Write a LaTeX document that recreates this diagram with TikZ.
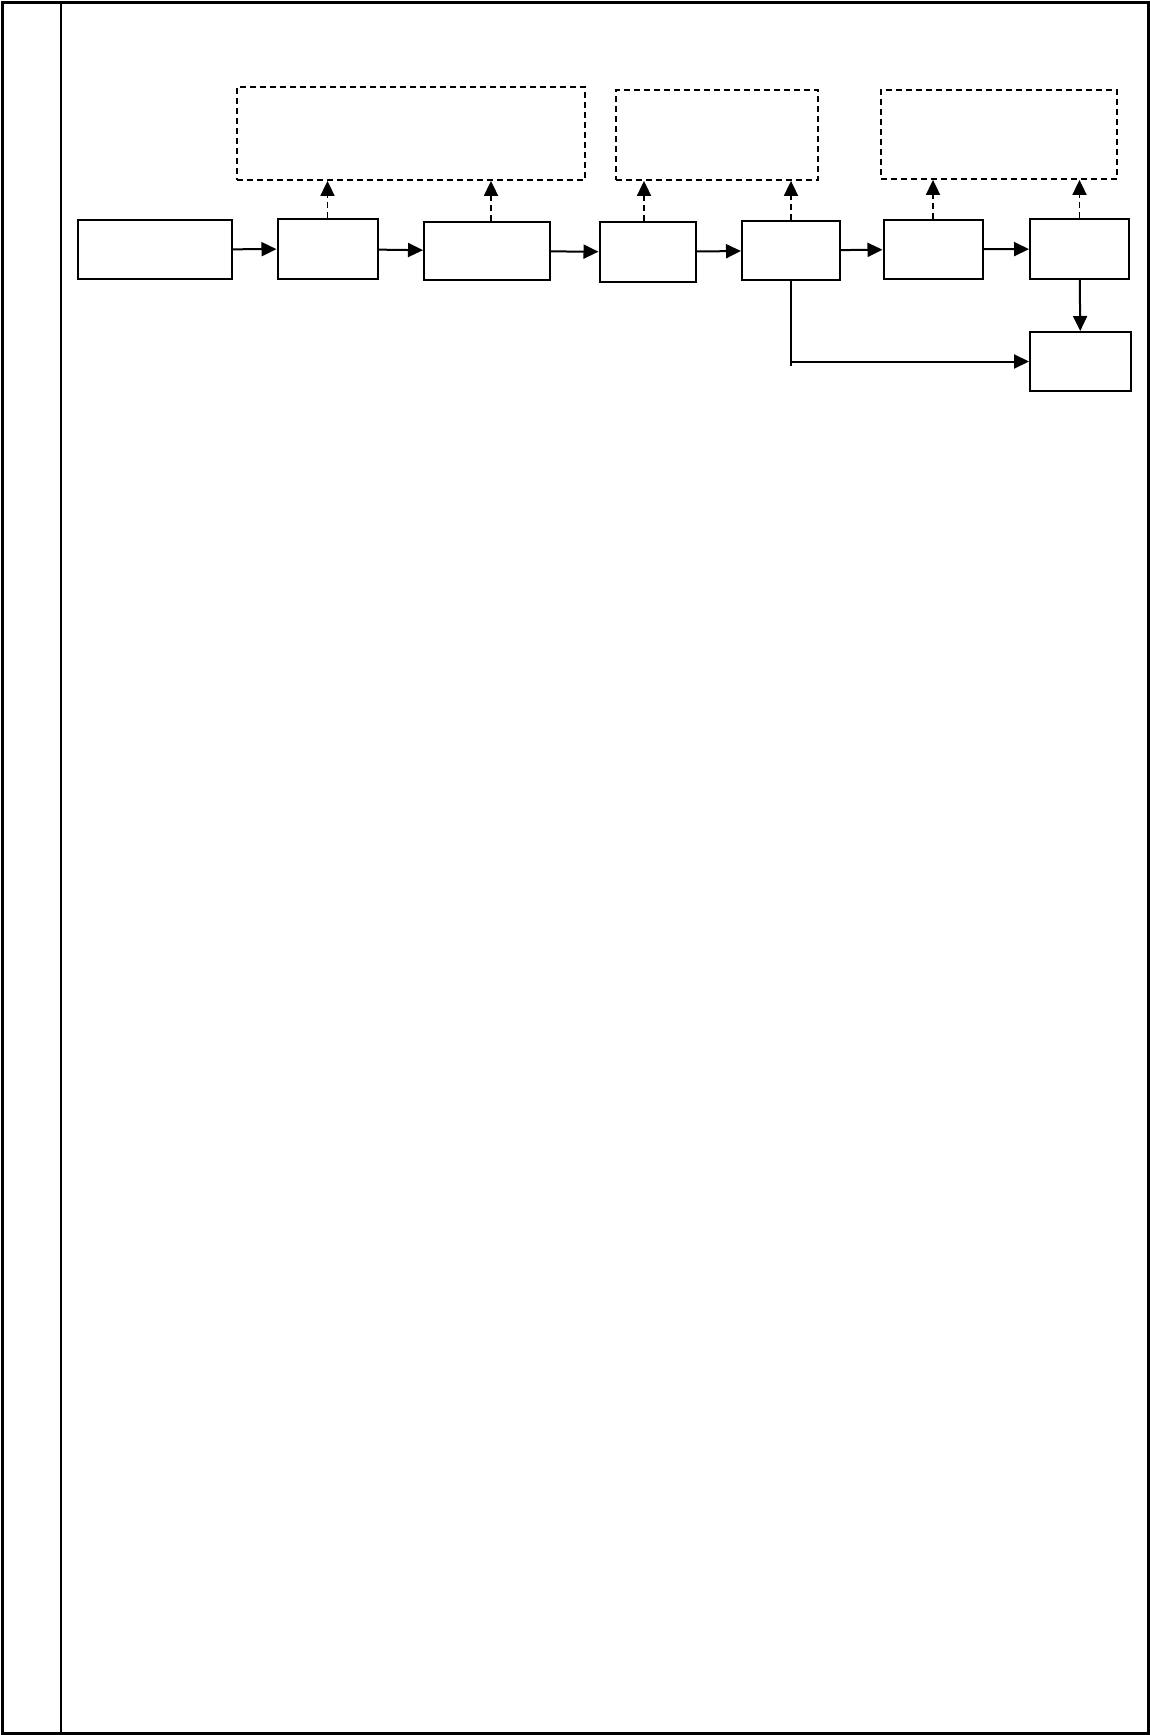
\documentclass[tikz,border=0pt]{standalone}
\usetikzlibrary{arrows.meta}
\begin{document}
\begin{tikzpicture}[x=1pt, y=-1pt,
    >={Triangle[length=15pt,width=14pt]},
    box/.style={rectangle, draw, line width=2pt, inner sep=0pt},
    note/.style={rectangle, draw, line width=1.8pt, dash pattern=on 6pt off 4pt, inner sep=0pt},
    flow/.style={->, line width=2pt},
    link/.style={->, line width=1.8pt, dash pattern=on 6pt off 4pt}]
  \useasboundingbox (0,0) rectangle (1150,1735);
  % frame and left column
  \draw[line width=3pt] (2,2) rectangle (1148,1733);
  \draw[line width=1.5pt] (61,2) -- (61,1733);
  % dashed boxes
  \node[note, minimum width=348pt, minimum height=93pt] (n1) at (411,133.5) {};
  \node[note, minimum width=202pt, minimum height=90pt] (n2) at (717,135) {};
  \node[note, minimum width=236pt, minimum height=89pt] (n3) at (999,134.5) {};
  % process boxes
  \node[box, minimum width=154pt, minimum height=59pt] (a) at (154.5,249.5) {};
  \node[box, minimum width=100pt, minimum height=60pt] (b) at (327.5,249) {};
  \node[box, minimum width=126pt, minimum height=58pt] (c) at (487,251) {};
  \node[box, minimum width=96pt, minimum height=60pt] (d) at (647.5,252) {};
  \node[box, minimum width=98pt, minimum height=59pt] (e) at (791,250.5) {};
  \node[box, minimum width=99pt, minimum height=59pt] (f) at (933,249.3) {};
  \node[box, minimum width=99pt, minimum height=60pt] (g) at (1079.5,249) {};
  \node[box, minimum width=101pt, minimum height=59pt] (h) at (1080.5,361.5) {};
  \coordinate (turn) at (791,366);
  % main flow
  \draw[flow] (a) -- (b);
  \draw[flow] (b) -- (c);
  \draw[flow] (c) -- (d);
  \draw[flow] (d) -- (e);
  \draw[flow] (e) -- (f);
  \draw[flow] (f) -- (g);
  \draw[flow] (g) -- (h);
  \draw[line width=2pt] (e.south) -- (turn);
  \draw[flow] (e.south |- h.west) -- (h.west);
  % links to dashed boxes
  \draw[link] (b.north) -- (b.north |- n1.south);
  \draw[link] ([xshift=4pt]c.north) -- ([xshift=4pt]c.north |- n1.south);
  \draw[link] ([xshift=-3.5pt]d.north) -- ([xshift=-3.5pt]d.north |- n2.south);
  \draw[link] (e.north) -- (e.north |- n2.south);
  \draw[link] (f.north) -- (f.north |- n3.south);
  \draw[link] (g.north) -- (g.north |- n3.south);
\end{tikzpicture}
\end{document}
